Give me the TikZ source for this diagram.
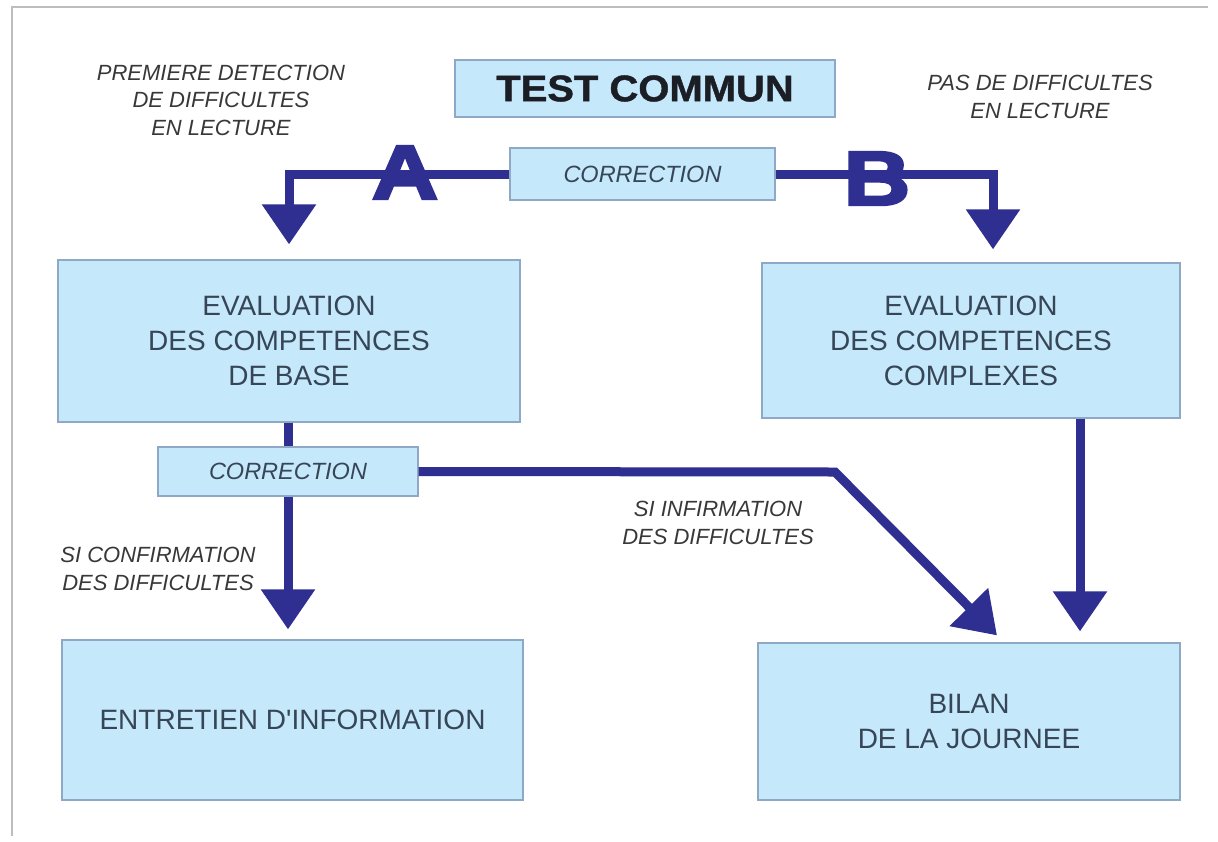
\documentclass[tikz,border=0pt]{standalone}
\usepackage{fontspec}
\newfontfamily\mainf{Liberation Sans}
\newfontfamily\titlef{Liberation Sans Bold}[FakeBold=1.2, FakeStretch=1.08]
\newfontfamily\heavyf{Liberation Sans Bold}[FakeBold=3]
\usetikzlibrary{arrows.meta,positioning}
\definecolor{boxfill}{HTML}{C6E8FB}
\definecolor{boxline}{HTML}{8EA8C6}
\definecolor{navy}{HTML}{2E2F91}
\definecolor{boxtext}{HTML}{364656}
\definecolor{labtext}{HTML}{383838}
\definecolor{framecol}{HTML}{BDBDBD}
\definecolor{titletext}{HTML}{1C1E26}
\tikzset{
  blk/.style={draw=boxline, line width=1.2pt, fill=boxfill, inner sep=0pt, align=center,
    text=boxtext, font=\mainf\fontsize{28}{35}\selectfont},
  corrbox/.style={blk, font=\mainf\fontsize{23.5}{25}\selectfont\itshape},
  lab/.style={align=center, text=labtext, font=\mainf\fontsize{22}{27.5}\selectfont\itshape, inner sep=0pt},
  letter/.style={text=navy, font=\heavyf\fontsize{77}{77}\selectfont, inner sep=0pt, xscale=1.2},
  flow/.style={draw=navy, line width=9pt},
  arr/.style={flow, -{Triangle[length=40pt,width=52pt]}},
}
\begin{document}
\begin{tikzpicture}[x=1pt,y=-1pt]
\useasboundingbox (0,0) rectangle (1218,841);
\fill[white] (0,0) rectangle (1218,841);
\draw[framecol, line width=1.2pt] (12,836) -- (12,7) -- (1208,7);

% boxes
\node[blk, minimum width=380pt, minimum height=57pt, font=\titlef\fontsize{37}{37}\selectfont, text=titletext] (test) at (645,88.5) {TEST COMMUN};
\node[corrbox, minimum width=265pt, minimum height=52pt] (corr1) at (642.5,174) {CORRECTION};
\node[blk, minimum width=462pt, minimum height=162pt] (ebase) at (289,341) {EVALUATION\\DES COMPETENCES\\DE BASE};
\node[blk, minimum width=418pt, minimum height=155pt] (ecomp) at (971,340.5) {EVALUATION\\DES COMPETENCES\\COMPLEXES};
\node[corrbox, minimum width=260pt, minimum height=49pt] (corr2) at (288,471.5) {CORRECTION};
\node[blk, minimum width=461pt, minimum height=160pt] (entretien) at (292.5,720) {ENTRETIEN D'INFORMATION};
\node[blk, minimum width=422pt, minimum height=157pt] (bilan) at (969,721.5) {BILAN\\DE LA JOURNEE};

% labels
\node[lab] (l1) at (221,100) {PREMIERE DETECTION\\DE DIFFICULTES\\EN LECTURE};
\node[lab] (l2) at (1040,97) {PAS DE DIFFICULTES\\EN LECTURE};
\node[lab] (l3) at (718,523) {SI INFIRMATION\\DES DIFFICULTES};
\node[lab] (l4) at (158,569) {SI CONFIRMATION\\DES DIFFICULTES};

% connectors
\coordinate (tipA) at ([yshift=15pt]ebase.north);
\coordinate (tipB) at ([xshift=22pt,yshift=13pt]ecomp.north);
\draw[arr] (corr1.west) -| (tipA);
\draw[arr] (corr1.east) -| (tipB);
\draw[flow] (ebase.south -| corr2.north) -- (corr2.north);
\coordinate (tipE) at ([yshift=10pt]entretien.north -| corr2.south);
\draw[arr] (corr2.south) -- (tipE);
\coordinate (bend) at (835,472);
\coordinate (tipD) at ([xshift=28pt,yshift=7pt]bilan.north);
\draw[arr, line join=miter] (corr2.east) -- (bend) -- (tipD);
\coordinate (startC) at ([xshift=109pt]ecomp.south);
\coordinate (tipC) at ([xshift=111pt,yshift=11pt]bilan.north);
\draw[arr] (startC) -- (tipC);

% letters
\node[letter] (A) at (405,172.5) {A};
\node[letter] (B) at (877,178.5) {B};
\end{tikzpicture}
\end{document}
